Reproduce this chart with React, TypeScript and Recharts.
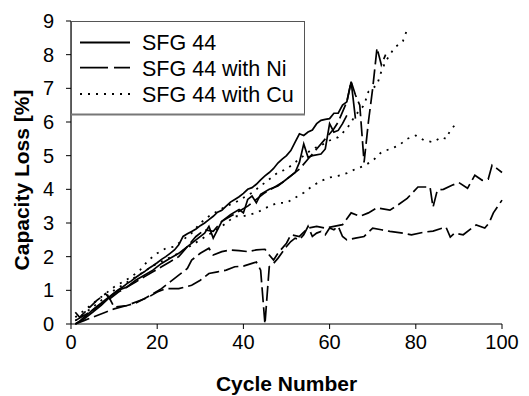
import React from 'react';
import { LineChart, Line, XAxis, YAxis, Legend } from 'recharts';

const xTicks = [0, 20, 40, 60, 80, 100];
const yTicks = [0, 1, 2, 3, 4, 5, 6, 7, 8, 9];

// SFG 44 (solid)
const sfg44A: [number, number][] = [
  [1, 0], [2, 0.08], [3, 0.2], [4, 0.3], [5, 0.42], [6, 0.52], [7, 0.62], [8, 0.72], [9, 0.82], [10, 0.92],
  [11, 1.02], [12, 1.1], [13, 1.2], [14, 1.28], [15, 1.38], [16, 1.47], [17, 1.55], [18, 1.65], [19, 1.73], [20, 1.82],
  [21, 1.92], [22, 2.0], [23, 2.1], [24, 2.2], [25, 2.35], [26, 2.6], [27, 2.68], [28, 2.75], [29, 2.82], [30, 2.92],
  [31, 3.0], [32, 3.1], [33, 3.2], [34, 3.32], [35, 3.38], [36, 3.5], [37, 3.62], [38, 3.7], [39, 3.78], [40, 3.88],
  [41, 4.0], [42, 4.05], [43, 4.15], [44, 4.28], [45, 4.4], [46, 4.5], [47, 4.62], [48, 4.78], [49, 4.9], [50, 5.0],
  [51, 5.15], [52, 5.4], [53, 5.65], [54, 5.6], [55, 5.7], [56, 5.76], [57, 5.95], [58, 6.05], [59, 6.08], [60, 6.1],
  [61, 6.26], [62, 6.26], [63, 6.5], [64, 6.6], [65, 7.2], [66, 6.1],
];
const sfg44B: [number, number][] = [
  [1, 0], [3, 0.15], [5, 0.35], [7, 0.55], [9, 0.8], [11, 1.0], [13, 1.1], [15, 1.3], [17, 1.45], [19, 1.6],
  [21, 1.8], [23, 1.95], [25, 2.1], [27, 2.3], [29, 2.5], [31, 2.7], [32, 2.9], [33, 2.55], [35, 3.05], [37, 3.25],
  [39, 3.4], [40, 3.3], [41, 3.7], [42, 3.8], [43, 3.6], [44, 3.85], [46, 4.0], [48, 4.1], [50, 4.3], [52, 4.5],
  [53, 4.8], [54, 5.35], [55, 4.95], [56, 5.0], [58, 5.05], [59, 5.2], [60, 5.95], [61, 5.7], [62, 5.75], [63, 5.95], [64, 6.2],
];

// SFG 44 with Ni (dashed)
const niA: [number, number][] = [
  [1, 0], [3, 0.1], [5, 0.2], [8, 0.35], [10, 0.45], [13, 0.55], [16, 0.7], [18, 0.8], [20, 0.95], [22, 1.05],
  [25, 1.05], [28, 1.15], [30, 1.3], [32, 1.5], [34, 1.55], [36, 1.6], [38, 1.7], [40, 1.72], [42, 1.8], [43, 1.84],
  [44, 1.6], [45, 0], [46, 1.7], [47, 1.8], [48, 1.95], [50, 2.3], [51, 2.45], [52, 2.55], [53, 2.5], [54, 2.65],
  [55, 2.9], [56, 2.6], [57, 2.7], [58, 2.75], [59, 2.65], [60, 2.85], [61, 2.8], [62, 2.9], [63, 2.6], [64, 2.5],
  [66, 2.55], [68, 2.6], [70, 2.85], [72, 2.8], [74, 2.75], [77, 2.7], [79, 2.65], [82, 2.73], [84, 2.76], [87, 2.88],
  [88, 2.58], [89, 2.7], [91, 2.65], [93, 2.85], [94, 2.94], [96, 2.85], [97, 3.0], [98, 3.3], [100, 3.68],
];
const niB: [number, number][] = [
  [1, 0.35], [2, 0.2], [4, 0.45], [6, 0.7], [8, 0.9], [9, 0.75], [10, 0.5], [13, 0.55], [15, 0.62], [17, 0.75],
  [19, 0.9], [21, 1.05], [23, 1.25], [25, 1.45], [27, 1.65], [28, 1.9], [30, 2.1], [32, 2.25], [33, 2.05], [35, 2.15],
  [37, 2.2], [39, 2.18], [41, 2.15], [43, 2.2], [45, 2.22], [46, 2.05], [47, 1.9], [48, 2.1], [50, 2.4], [51, 2.65],
  [53, 2.6], [55, 2.85], [57, 2.9], [59, 2.85], [61, 2.9], [63, 2.95], [65, 3.3], [67, 3.2], [69, 3.3], [71, 3.45],
  [74, 3.38], [76, 3.55], [78, 3.73], [80.5, 4.07], [83.3, 4.07], [84, 3.47], [85, 3.98], [86.4, 4.0], [88.4, 4.12], [90, 4.2],
  [92, 4.03], [93.7, 4.42], [95.4, 4.27], [96.8, 4.3], [97.7, 4.72], [99, 4.6], [100, 4.5],
];
const niC: [number, number][] = [
  [1, 0.1], [3, 0.25], [5, 0.4], [7, 0.6], [9, 0.75], [11, 0.95], [13, 1.1], [15, 1.25], [17, 1.4], [19, 1.55],
  [21, 1.7], [23, 1.85], [25, 2.0], [27, 2.3], [29, 2.6], [31, 2.8], [33, 2.75], [35, 3.05], [37, 3.2], [39, 3.35],
  [41, 3.5], [43, 3.7], [45, 3.9], [47, 4.05], [49, 4.2], [51, 4.4], [53, 4.6], [55, 4.9], [57, 5.2], [59, 5.5],
  [61, 5.8], [62, 6.0], [63, 6.3], [64, 6.6], [65, 7.2], [66, 6.8], [67, 6.5], [68, 4.8], [69, 6.0], [70, 7.0],
  [71, 8.2], [72, 7.7], [73, 8.0],
];

// SFG 44 with Cu (dotted)
const cuA: [number, number][] = [
  [1, 0.2], [4, 0.5], [6, 0.7], [8, 0.9], [10, 1.1], [12, 1.25], [14, 1.4], [16, 1.6], [18, 1.9], [20, 2.1],
  [22, 2.25], [24, 2.3], [26, 2.5], [28, 2.7], [30, 3.0], [32, 3.2], [34, 3.35], [36, 3.5], [38, 3.6], [40, 3.75],
  [42, 3.9], [44, 4.1], [46, 4.3], [48, 4.5], [50, 4.6], [52, 4.8], [54, 5.0], [56, 5.2], [58, 5.3], [60, 5.45],
  [62, 5.55], [64, 5.8], [66, 6.2], [68, 6.5], [69, 6.9], [71, 7.1], [72, 7.5], [73, 7.8], [75, 8.2], [77, 8.4], [78, 8.75],
];
const cuB: [number, number][] = [
  [1, 0.1], [5, 0.5], [10, 1.0], [15, 1.4], [20, 1.8], [25, 2.1], [30, 2.5], [35, 2.9], [38, 3.2], [40, 3.2],
  [43, 3.3], [46, 3.5], [48, 3.6], [50, 3.6], [52, 3.75], [54, 3.9], [56, 4.1], [58, 4.25], [60, 4.35], [62, 4.4],
  [64, 4.48], [66, 4.6], [68, 4.7], [70, 4.85], [72, 5.1], [74, 5.2], [76, 5.3], [78, 5.5], [80, 5.6], [82, 5.45],
  [84, 5.4], [86, 5.55], [87, 5.5], [88, 5.75], [89, 5.9],
];

const SOLID = undefined;
const DASH = '15 5';
const DOT = '2 6';

const seriesList = [
  { key: 'sA', data: sfg44A, dash: SOLID },
  { key: 'sB', data: sfg44B, dash: SOLID },
  { key: 'nA', data: niA, dash: DASH },
  { key: 'nB', data: niB, dash: DASH },
  { key: 'nC', data: niC, dash: DASH },
  { key: 'cA', data: cuA, dash: DOT },
  { key: 'cB', data: cuB, dash: DOT },
];

const legendItems = [
  { label: 'SFG 44', dash: SOLID },
  { label: 'SFG 44 with Ni', dash: '28 6' },
  { label: 'SFG 44 with Cu', dash: '2 6' },
];

const FONT = '"Liberation Sans", Arial, Helvetica, sans-serif';

const toPts = (arr: [number, number][]) => arr.map(([x, y]) => ({ x, y }));

const LegendBox = () => (
  <svg width={234} height={95} style={{ display: 'block' }}>
    <rect x={0.5} y={0.5} width={233} height={93} fill="#fff" stroke="#555" strokeWidth={1} />
    <line x1={0} y1={93.5} x2={234} y2={93.5} stroke="#777" strokeWidth={2} />
    {legendItems.map((it, i) => {
      const cy = [21.5, 46.7, 73][i];
      const by = [29, 55, 81][i];
      return (
        <g key={it.label}>
          <line x1={9} y1={cy} x2={59} y2={cy} stroke="#000" strokeWidth={1.8} strokeDasharray={it.dash} />
          <text x={71} y={by} fontSize={21.5} fontFamily={FONT} fill="#000">{it.label}</text>
        </g>
      );
    })}
  </svg>
);

const XLabel = () => (
  <text x={286.5} y={391} textAnchor="middle" fontSize={21} fontWeight="bold" fontFamily={FONT} fill="#000">
    Cycle Number
  </text>
);

const YLabel = () => (
  <text x={29} y={180} transform="rotate(-90 29 180)" textAnchor="middle" fontSize={21} fontWeight="bold" fontFamily={FONT} fill="#000">
    Capacity Loss [%]
  </text>
);

export default function App() {
  return (
    <div style={{ position: 'absolute', left: 0, top: 0, width: 529, height: 396, background: '#fff' }}>
      <LineChart width={529} height={396} margin={{ top: 21, right: 27, left: 0, bottom: 0 }}>
        <XAxis
          type="number"
          dataKey="x"
          domain={[0, 100]}
          ticks={xTicks}
          interval={0}
          tickSize={5}
          tickMargin={6}
          height={72}
          axisLine={{ stroke: '#000', strokeWidth: 1.2 }}
          tickLine={{ stroke: '#000' }}
          tick={{ fill: '#000', fontSize: 20, fontFamily: FONT }}
          label={<XLabel />}
        />
        <XAxis xAxisId="top" orientation="top" type="number" domain={[0, 100]} tick={false} tickLine={false} height={0} axisLine={{ stroke: '#888' }} />
        <YAxis
          type="number"
          domain={[0, 9]}
          ticks={yTicks}
          interval={0}
          tickSize={5}
          tickMargin={12}
          width={71}
          axisLine={{ stroke: '#000', strokeWidth: 1.2 }}
          tickLine={{ stroke: '#000' }}
          tick={{ fill: '#000', fontSize: 20, fontFamily: FONT }}
          label={<YLabel />}
        />
        <YAxis yAxisId="right" orientation="right" type="number" domain={[0, 9]} tick={false} tickLine={false} width={0} axisLine={{ stroke: '#888' }} />
        {seriesList.map((s) => (
          <Line
            key={s.key}
            data={toPts(s.data)}
            dataKey="y"
            type="linear"
            stroke="#000"
            strokeWidth={s.dash === DOT ? 1.8 : 1.7}
            strokeDasharray={s.dash}
            dot={false}
            activeDot={false}
            legendType="none"
            isAnimationActive={false}
          />
        ))}
        <Legend
          layout="vertical"
          align="center"
          verticalAlign="middle"
          content={<LegendBox />}
          wrapperStyle={{ left: 71, top: 21, width: 234, height: 95 }}
        />
      </LineChart>
    </div>
  );
}
